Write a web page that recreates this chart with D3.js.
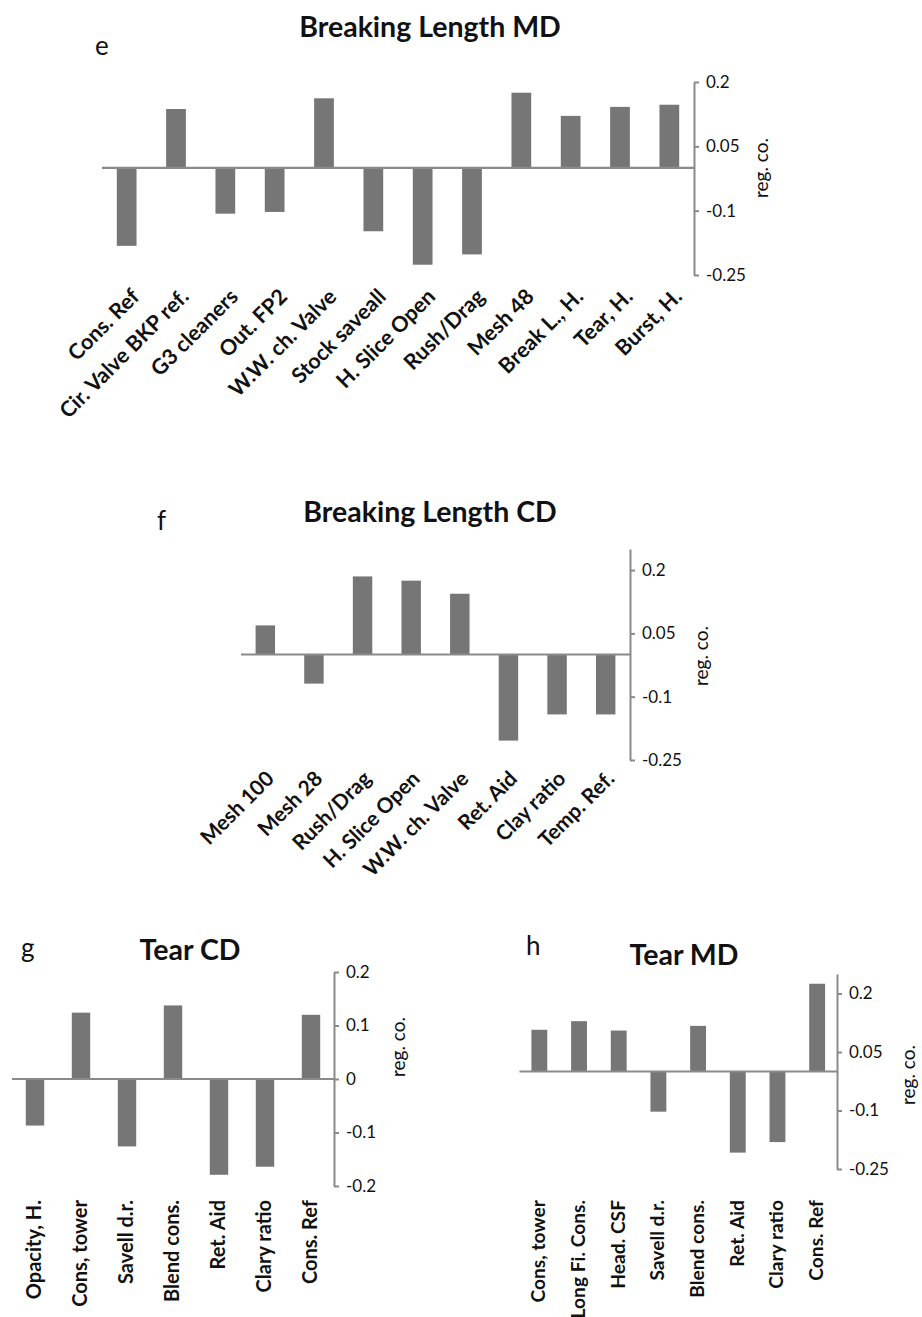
<!DOCTYPE html>
<html><head><meta charset="utf-8">
<script src="https://cdn.jsdelivr.net/npm/d3@7"></script>
<style>
body{margin:0;background:#fff}
svg{display:block}
text{font-family:Lato,"Open Sans",sans-serif}
</style>
</head><body>
<svg id="c" width="922" height="1317"></svg>
<script>
// ---- data ----
const catsE = ["Cons. Ref","Cir. Valve BKP ref.","G3 cleaners","Out. FP2","W.W. ch. Valve","Stock saveall","H. Slice Open","Rush/Drag","Mesh 48","Break L., H.","Tear, H.","Burst, H."];
const valsE = [-0.182, 0.137, -0.107, -0.103, 0.162, -0.148, -0.226, -0.202, 0.175, 0.121, 0.142, 0.147];
const ticksE = [0.2, 0.05, -0.1, -0.25];

const catsF = ["Mesh 100","Mesh 28","Rush/Drag","H. Slice Open","W.W. ch. Valve","Ret. Aid","Clay ratio","Temp. Ref."];
const valsF = [0.069, -0.069, 0.185, 0.175, 0.144, -0.204, -0.142, -0.142];
const ticksF = [0.2, 0.05, -0.1, -0.25];

const catsG = ["Opacity, H.","Cons, tower","Savell d.r.","Blend cons.","Ret. Aid","Clary ratio","Cons. Ref"];
const valsG = [-0.087, 0.124, -0.126, 0.1375, -0.179, -0.164, 0.12];
const ticksG = [0.2, 0.1, 0, -0.1, -0.2];

const catsH = ["Cons, tower","Long Fi. Cons.","Head. CSF","Savell d.r.","Blend cons.","Ret. Aid","Clary ratio","Cons. Ref"];
const valsH = [0.107, 0.129, 0.105, -0.103, 0.117, -0.208, -0.181, 0.225];
const ticksH = [0.2, 0.05, -0.1, -0.25];

const svg = d3.select("#c");
const BAR = "#767676", AX = "#8a8a8a";

function panel(cfg){
  const g = svg.append("g");
  const x = d3.scaleBand().domain(cfg.cats).range(cfg.xr).paddingInner(0.6).paddingOuter(0.3);
  const y = d3.scaleLinear().domain(cfg.yd).range(cfg.yr);
  const data = cfg.cats.map((c,i)=>({c, v: cfg.vals[i]}));
  g.selectAll("rect.bar").data(data).join("rect").attr("class","bar")
    .attr("x", d=>x(d.c)).attr("width", x.bandwidth())
    .attr("y", d=>Math.min(y(d.v), y(0))).attr("height", d=>Math.abs(y(d.v)-y(0)))
    .attr("fill", BAR);
  g.append("line").attr("x1", cfg.xr[0]).attr("x2", cfg.xr[1])
    .attr("y1", y(0)).attr("y2", y(0)).attr("stroke", AX).attr("stroke-width", 2.2);
  const ax = g.append("g").attr("transform", `translate(${cfg.xr[1]},0)`)
    .call(d3.axisRight(y).tickValues(cfg.ticks).tickSize(5).tickSizeOuter(0).tickPadding(7).tickFormat(d=>String(d)));
  ax.select(".domain").attr("stroke", AX).attr("stroke-width", 2);
  ax.selectAll(".tick line").attr("stroke", AX).attr("stroke-width", 2);
  ax.selectAll(".tick text").attr("fill", "#111").style("font-size","17px").style("font-family","Lato");
  // category labels
  const lab = g.append("g");
  data.forEach(d=>{
    const cx = x(d.c) + x.bandwidth()/2;
    lab.append("text").attr("transform", `translate(${cx+cfg.lx},${cfg.ly}) rotate(${cfg.rot})`)
      .attr("text-anchor","end").style("font-size", cfg.lfs+"px").style("font-weight","bold").attr("fill","#111").text(d.c);
  });
  // title
  g.append("text").attr("x", cfg.title[1]).attr("y", cfg.title[2]).attr("text-anchor","middle")
    .style("font-size","28.5px").style("font-weight","bold").attr("fill","#111").text(cfg.title[0]);
  g.append("text").attr("x", cfg.letter[1]).attr("y", cfg.letter[2])
    .style("font-size","26px").attr("fill","#111").text(cfg.letter[0]);
  g.append("text").attr("transform", `translate(${cfg.reg[0]},${cfg.reg[1]}) rotate(-90)`)
    .attr("text-anchor","middle").style("font-size","19px").attr("fill","#111").text("reg. co.");
}

panel({cats:catsE, vals:valsE, ticks:ticksE, xr:[102,694], yd:[-0.25,0.2], yr:[275,82],
  rot:-45, lx:14, ly:298, lfs:21.5, title:["Breaking Length MD",430,37], letter:["e",95,55], reg:[768,168]});
panel({cats:catsF, vals:valsF, ticks:ticksF, xr:[241,630], yd:[-0.25,0.25], yr:[760,549],
  rot:-45, lx:10, ly:780, lfs:21, title:["Breaking Length CD",430,522], letter:["f",157,530], reg:[708,656]});
panel({cats:catsG, vals:valsG, ticks:ticksG, xr:[12,334], yd:[-0.2,0.2], yr:[1186,972],
  rot:-90, lx:6, ly:1200, lfs:20, title:["Tear CD",190,960], letter:["g",21,957], reg:[405,1047]});
panel({cats:catsH, vals:valsH, ticks:ticksH, xr:[519.5,837], yd:[-0.25,0.25], yr:[1169,974],
  rot:-90, lx:6, ly:1200, lfs:19.2, title:["Tear MD",684,965], letter:["h",526,955], reg:[915,1075]});
</script>
</body></html>
